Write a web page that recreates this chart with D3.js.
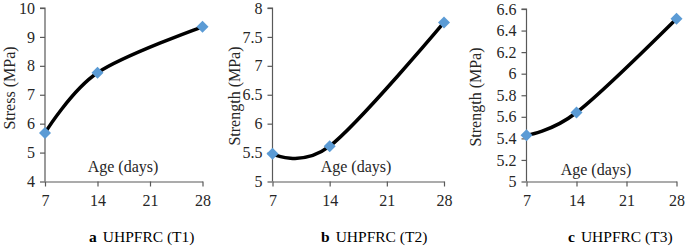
<!DOCTYPE html>
<html><head><meta charset="utf-8">
<script src="https://cdn.jsdelivr.net/npm/d3@7"></script>
<style>body{margin:0;background:#fff}svg{display:block}svg text{font-family:"Times New Roman",Times,"Liberation Serif",serif !important}</style>
</head><body>
<svg id="c" width="685" height="246"></svg>
<script>
const ages = [7, 14, 28];
const xTicks = [7, 14, 21, 28];
const valuesA = [5.68, 7.76, 9.35];
const valuesB = [5.48, 5.61, 7.75];
const valuesC = [5.43, 5.64, 6.51];
const yTicksA = [4, 5, 6, 7, 8, 9, 10];
const yTicksB = [5, 5.5, 6, 6.5, 7, 7.5, 8];
const yTicksC = [5, 5.2, 5.4, 5.6, 5.8, 6, 6.2, 6.4, 6.6];
const panels = [
  {letter:"a", name:"UHPFRC (T1)", ylab:"Stress (MPa)", vals:valuesA, ticks:yTicksA, ydom:[4,10],
   x0:45, x1:202.5, yTop:8, ylx:9, yly:88, agex:123, agey:172, capx:89},
  {letter:"b", name:"UHPFRC (T2)", ylab:"Strength (MPa)", vals:valuesB, ticks:yTicksB, ydom:[5,8],
   x0:272.5, x1:444, yTop:8, ylx:234, yly:96, agex:356, agey:172, capx:321},
  {letter:"c", name:"UHPFRC (T3)", ylab:"Strength (MPa)", vals:valuesC, ticks:yTicksC, ydom:[5,6.6],
   x0:526.5, x1:676.5, yTop:9, ylx:475, yly:97, agex:596, agey:175, capx:568}
];
const svg = d3.select("#c");
const yBottom = 181.5;
panels.forEach(p => {
  const x = d3.scaleLinear().domain([7,28]).range([p.x0, p.x1]);
  const y = d3.scaleLinear().domain(p.ydom).range([yBottom, p.yTop]);
  const g = svg.append("g");
  const ya = g.append("g").attr("transform",`translate(${p.x0},0)`)
    .call(d3.axisLeft(y).tickValues(p.ticks).tickSize(5).tickPadding(5).tickFormat(d3.format("")));
  const xa = g.append("g").attr("transform",`translate(0,${yBottom})`)
    .call(d3.axisBottom(x).tickValues(xTicks).tickSize(5).tickPadding(8).tickSizeOuter(0));
  [ya, xa].forEach(a => {
    a.attr("font-family", null);
    a.select(".domain").attr("stroke","#595959").attr("stroke-width",1.2);
    a.selectAll(".tick line").attr("stroke","#595959").attr("stroke-width",1.2);
    a.selectAll("text").attr("font-size","16px").attr("fill","#262626");
  });
  ya.select(".domain").attr("d",`M-5,${p.yTop}H0V${yBottom}`);
  const line = d3.line().x((d,i)=>x(ages[i])).y(d=>y(d)).curve(d3.curveCardinal.tension(0));
  g.append("path").datum(p.vals).attr("d",line).attr("fill","none")
    .attr("stroke","#000").attr("stroke-width",3.5).attr("stroke-linecap","round");
  const sym = d3.symbol().type(d3.symbolSquare).size(72);
  g.selectAll(".m").data(p.vals).join("path")
    .attr("d",sym).attr("fill","#5B9BD5")
    .attr("transform",(d,i)=>`translate(${x(ages[i])},${y(d)}) rotate(45)`);
  g.append("text").attr("x",p.agex).attr("y",p.agey).attr("text-anchor","middle")
    .attr("font-size","16px").attr("fill","#262626").text("Age (days)");
  g.append("text").attr("transform",`translate(${p.ylx},${p.yly}) rotate(-90)`)
    .attr("text-anchor","middle").attr("dy","0.35em")
    .attr("font-size","16px").attr("fill","#262626").text(p.ylab);
  const cap = g.append("text").attr("x",p.capx).attr("y",242).attr("font-size","15.5px").attr("fill","#000");
  cap.append("tspan").attr("font-weight","bold").text(p.letter);
  cap.append("tspan").attr("dx","6").text(p.name);
});
</script>
</body></html>
